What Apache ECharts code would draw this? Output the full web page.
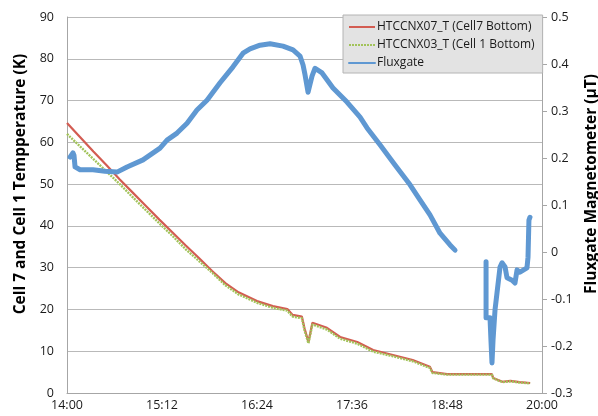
<!DOCTYPE html>
<html>
<head>
<meta charset="utf-8">
<script src="https://cdn.jsdelivr.net/npm/echarts@6/dist/echarts.min.js"></script>
<style>
  html, body { margin: 0; padding: 0; background: #fff; }
  #chart { width: 598px; height: 416px; }
</style>
</head>
<body>
<div id="chart"></div>
<script>
// Time axis: minutes after 14:00, labelled every 72 minutes
const xTickLabels = ['14:00', '15:12', '16:24', '17:36', '18:48', '20:00'];

// HTCCNX07_T (Cell7 Bottom) temperature, K
const cell7Minutes = [0, 10, 20, 30, 40, 50, 60, 70, 80, 90, 100, 110, 120, 130, 144, 156, 167, 171, 178, 180, 183, 186, 197, 207, 220, 232, 247, 262, 275, 277, 288, 322, 323, 330, 336, 343, 351];
const cell7Temp    = [64.6, 61.2, 57.8, 54.5, 51.1, 47.9, 44.7, 41.5, 38.4, 35.3, 32.3, 29.2, 26.3, 24.1, 22.0, 20.8, 20.1, 18.7, 18.3, 15.5, 12.2, 16.8, 15.6, 13.4, 12.2, 10.3, 9.1, 7.9, 6.3, 5.0, 4.5, 4.5, 3.6, 2.7, 2.9, 2.6, 2.4];

// HTCCNX03_T (Cell 1 Bottom) temperature, K
const cell1Minutes = [0, 10, 20, 30, 40, 50, 60, 70, 80, 90, 100, 110, 120, 130, 144, 156, 167, 171, 178, 180, 183, 186, 197, 207, 220, 232, 247, 262, 275, 277, 288, 322, 323, 330, 336, 343, 351];
const cell1Temp    = [62.0, 59.0, 56.0, 53.0, 50.0, 46.8, 43.7, 40.6, 37.6, 34.4, 31.6, 28.8, 25.8, 23.6, 21.6, 20.4, 19.7, 18.3, 17.9, 15.0, 11.9, 16.4, 15.2, 13.0, 11.8, 9.9, 8.8, 7.6, 6.0, 4.8, 4.4, 4.4, 3.5, 2.6, 2.8, 2.5, 2.3];

// Fluxgate magnetometer, uT (null marks the data gap)
const fluxMinutes = [2.3, 4.5, 5.3, 6.1, 9.9, 19.7, 28.8, 37.9, 45.5, 57.6, 70.5, 75.8, 83.4, 91.0, 98.5, 106.1, 116.0, 125.8, 133.4, 138.7, 146.3, 153.9, 163.7, 171.3, 176.6, 178.9, 180.4, 182.7, 184.2, 185.7, 188.0, 193.3, 201.6, 212.2, 222.1, 227.4, 237.2, 248.6, 260.0, 267.5, 275.1, 282.7, 290.3, 294.1, 306, 317.6, 317.6, 320.6, 321.3, 322.1, 322.9, 324.4, 325.9, 328.2, 329.7, 332.0, 333.5, 337.3, 339.5, 341.1, 343.3, 348.6, 349.4, 350.1, 350.9];
const fluxValues  = [0.202, 0.211, 0.206, 0.181, 0.175, 0.175, 0.172, 0.170, 0.181, 0.196, 0.221, 0.238, 0.253, 0.274, 0.302, 0.323, 0.360, 0.394, 0.423, 0.432, 0.440, 0.443, 0.438, 0.430, 0.417, 0.398, 0.377, 0.340, 0.357, 0.374, 0.391, 0.381, 0.349, 0.319, 0.287, 0.264, 0.228, 0.185, 0.143, 0.111, 0.079, 0.040, 0.015, 0.004, null, -0.021, -0.140, -0.140, -0.187, -0.236, -0.187, -0.123, -0.087, -0.032, -0.023, -0.032, -0.055, -0.060, -0.066, -0.038, -0.043, -0.034, -0.011, 0.068, 0.074];

const seriesNames = ['HTCCNX07_T (Cell7 Bottom)', 'HTCCNX03_T (Cell 1 Bottom)', 'Fluxgate'];

const pairs = (xs, ys) => xs.map((x, i) => [x, ys[i] === null ? '-' : ys[i]]);

const FONT = '"Open Sans", "Liberation Sans", sans-serif';
const AXIS_GRAY = '#a6a6a6';

const chart = echarts.init(document.getElementById('chart'), null, { renderer: 'canvas' });

chart.setOption({
  animation: false,
  backgroundColor: '#ffffff',
  textStyle: { fontFamily: FONT },
  grid: { left: 67, right: 56, top: 17, bottom: 23, containLabel: false, outerBoundsMode: 'none' },
  legend: {
    orient: 'vertical',
    left: 343,
    top: 15,
    backgroundColor: '#e3e3e3',
    borderColor: '#b4b4b4',
    borderWidth: 1,
    borderRadius: 0,
    padding: [6, 8, 4, 5],
    itemGap: 6,
    itemWidth: 26,
    itemHeight: 12,
    itemStyle: { opacity: 0 },
    textStyle: { fontFamily: FONT, fontSize: 12, color: '#1a1a1a', padding: [0, 0, 0, -3] },
    data: seriesNames
  },
  xAxis: {
    type: 'value',
    min: 0,
    max: 360,
    interval: 72,
    axisLine: { show: true, lineStyle: { color: AXIS_GRAY, width: 1 } },
    axisTick: { show: false },
    splitLine: { show: false },
    axisLabel: {
      margin: 6,
      fontSize: 12.5,
      color: '#1a1a1a',
      fontFamily: FONT,
      formatter: v => xTickLabels[Math.round(v / 72)]
    }
  },
  yAxis: [
    {
      type: 'value',
      min: 0,
      max: 90,
      interval: 10,
      position: 'left',
      name: 'Cell 7 and Cell 1 Tempperature (K)',
      nameLocation: 'middle',
      nameGap: 38,
      nameTextStyle: { fontFamily: FONT, fontSize: 15.5, fontWeight: 'bold', color: '#000', padding: [0, 0, 0, 42] },
      axisLine: { show: true, lineStyle: { color: AXIS_GRAY, width: 1 } },
      axisTick: { show: false },
      splitLine: { show: true, lineStyle: { color: '#b9b9b9', width: 1 } },
      axisLabel: { margin: 13, fontSize: 12.5, color: '#1a1a1a', fontFamily: FONT }
    },
    {
      type: 'value',
      min: -0.3,
      max: 0.5,
      interval: 0.1,
      position: 'right',
      name: 'Fluxgate Magnetometer (μT)',
      nameLocation: 'middle',
      nameGap: 41,
      nameRotate: 90,
      nameTextStyle: { fontFamily: FONT, fontSize: 15.5, fontWeight: 'bold', color: '#000', padding: [0, 0, 0, 42] },
      axisLine: { show: true, lineStyle: { color: AXIS_GRAY, width: 1 } },
      axisTick: { show: true, inside: false, length: 5, lineStyle: { color: AXIS_GRAY } },
      splitLine: { show: false },
      axisLabel: {
        margin: 9,
        fontSize: 12.5,
        color: '#1a1a1a',
        fontFamily: FONT,
        formatter: v => String(Math.round(v * 10) / 10)
      }
    }
  ],
  series: [
    {
      name: seriesNames[0],
      type: 'line',
      yAxisIndex: 0,
      data: pairs(cell7Minutes, cell7Temp),
      symbol: 'none',
      lineStyle: { color: '#d35c52', width: 2.2 },
      itemStyle: { color: '#d35c52' },
      z: 2
    },
    {
      name: seriesNames[1],
      type: 'line',
      yAxisIndex: 0,
      data: pairs(cell1Minutes, cell1Temp),
      symbol: 'none',
      lineStyle: { color: '#a2c35a', width: 2.4, type: [2, 1] },
      itemStyle: { color: '#a2c35a' },
      z: 3
    },
    {
      name: seriesNames[2],
      type: 'line',
      yAxisIndex: 1,
      data: pairs(fluxMinutes, fluxValues),
      symbol: 'none',
      connectNulls: false,
      lineStyle: { color: '#5f98d2', width: 5, cap: 'round', join: 'round' },
      itemStyle: { color: '#5f98d2' },
      z: 4
    }
  ]
});
</script>
</body>
</html>
